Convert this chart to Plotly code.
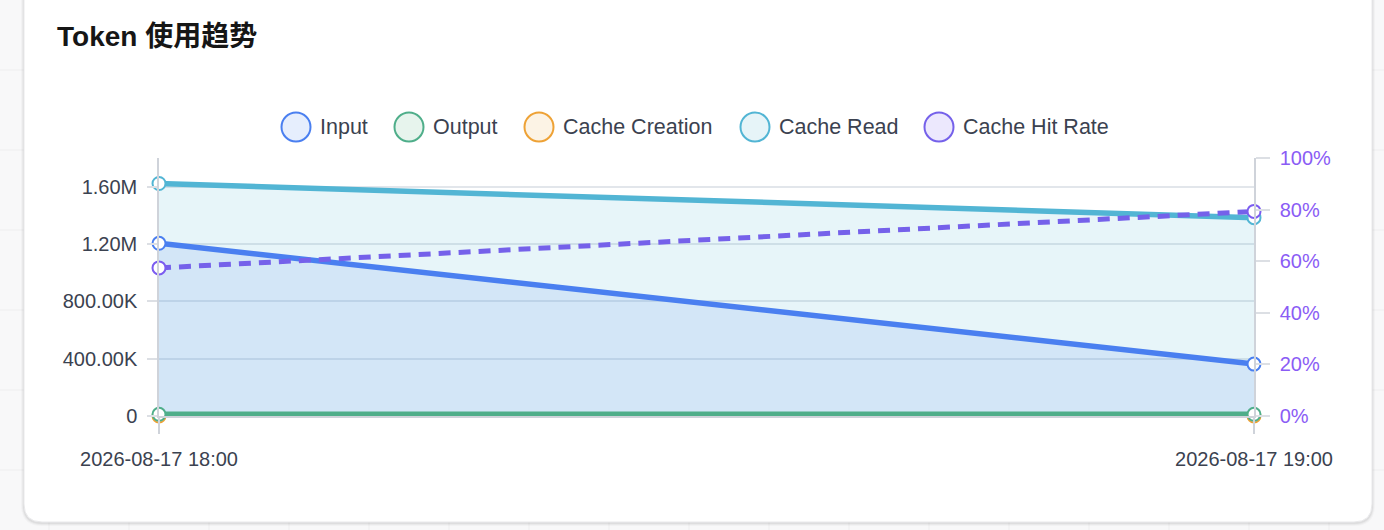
import plotly.graph_objects as go

# data
times = ["2026-08-17 18:00", "2026-08-17 19:00"]
input_tokens = [1205000, 362000]
output_tokens = [12000, 12000]
cache_creation = [0, 0]
cache_read = [1622000, 1384000]
hit_rate = [57.4, 79.3]

series_names = ["Input", "Output", "Cache Creation", "Cache Read", "Cache Hit Rate"]
line_colors = ["#4a7ff0", "#4fae8a", "#eea236", "#52b5d4", "#7561ea"]
legend_fills = ["#e6eefd", "#e7f4ed", "#fcf3e5", "#e6f4f8", "#ece8fd"]

y_tickvals = [0, 400000, 800000, 1200000, 1600000]
y_ticktext = ["0", "400.00K", "800.00K", "1.20M", "1.60M"]
y2_tickvals = [0, 20, 40, 60, 80, 100]
y2_ticktext = ["0%", "20%", "40%", "60%", "80%", "100%"]

title = "Token 使用趋势"

# page / plot area in pixels
W, H = 1384, 530
L, R, T, B = 159, 1254, 158, 416
FONT = "Liberation Sans, Noto Sans CJK SC, sans-serif"
AXIS_GRAY = "#cfd3da"
TEXT = "#3b4250"


def px(x):
    return (x - L) / (R - L)


def py(y):
    return (B - y) / (B - T)


def round_rect(x0, y0, x1, y1, r):
    pts = [
        f"M {px(x0 + r)} {py(y0)}",
        f"L {px(x1 - r)} {py(y0)}",
        f"Q {px(x1)} {py(y0)} {px(x1)} {py(y0 + r)}",
        f"L {px(x1)} {py(y1 - r)}",
        f"Q {px(x1)} {py(y1)} {px(x1 - r)} {py(y1)}",
        f"L {px(x0 + r)} {py(y1)}",
        f"Q {px(x0)} {py(y1)} {px(x0)} {py(y1 - r)}",
        f"L {px(x0)} {py(y0 + r)}",
        f"Q {px(x0)} {py(y0)} {px(x0 + r)} {py(y0)}",
        "Z",
    ]
    return " ".join(pts)


def marker(color):
    return dict(symbol="circle", size=13, color="white", line=dict(color=color, width=2))


fig = go.Figure()

fig.add_trace(go.Scatter(
    x=times, y=cache_read, name=series_names[3], mode="lines+markers",
    line=dict(color=line_colors[3], width=5.5), marker=marker(line_colors[3]),
    fill="tozeroy", fillcolor="rgba(82,181,212,0.14)", cliponaxis=False,
))
fig.add_trace(go.Scatter(
    x=times, y=input_tokens, name=series_names[0], mode="lines+markers",
    line=dict(color=line_colors[0], width=5.5), marker=marker(line_colors[0]),
    fill="tozeroy", fillcolor="rgba(74,128,240,0.13)", cliponaxis=False,
))
fig.add_trace(go.Scatter(
    x=times, y=cache_creation, name=series_names[2], mode="lines+markers",
    line=dict(color=line_colors[2], width=5), marker=marker(line_colors[2]),
    cliponaxis=False,
))
fig.add_trace(go.Scatter(
    x=times, y=output_tokens, name=series_names[1], mode="lines+markers",
    line=dict(color=line_colors[1], width=5.5), marker=marker(line_colors[1]),
    cliponaxis=False,
))
fig.add_trace(go.Scatter(
    x=times, y=hit_rate, name=series_names[4], mode="lines+markers", yaxis="y2",
    line=dict(color=line_colors[4], width=5, dash="12px,8px"), marker=marker("#7b5cf0"),
    cliponaxis=False,
))

shapes = []
# faint page grid behind the card
for gx in range(49, W, 80):
    shapes.append(dict(type="line", xref="paper", yref="paper", layer="below",
                       x0=px(gx), x1=px(gx), y0=py(0), y1=py(H),
                       line=dict(color="#eeeeef", width=1)))
for gy in range(70, H, 80):
    shapes.append(dict(type="line", xref="paper", yref="paper", layer="below",
                       x0=px(0), x1=px(W), y0=py(gy), y1=py(gy),
                       line=dict(color="#eeeeef", width=1)))
# card shadow + card
for i, a in enumerate([0.025, 0.035, 0.05]):
    d = 3 - i
    shapes.append(dict(type="path", xref="paper", yref="paper", layer="below",
                       path=round_rect(24 - d, -40, 1372 + d, 522 + d + 1, 18 + d),
                       fillcolor=f"rgba(0,0,0,{a})", line=dict(width=0)))
shapes.append(dict(type="path", xref="paper", yref="paper", layer="below",
                   path=round_rect(24, -40, 1372, 522, 18),
                   fillcolor="white", line=dict(color="#e9e9eb", width=1)))

# legend (drawn by hand to get the round icons)
legend_x = [296, 409, 539, 755, 939]
legend_y = 127
annotations = []
for name, cx, col, fc in zip(series_names, legend_x, line_colors, legend_fills):
    shapes.append(dict(type="circle", xref="paper", yref="paper",
                       xsizemode="pixel", ysizemode="pixel",
                       xanchor=px(cx), yanchor=py(legend_y),
                       x0=-14.5, x1=14.5, y0=-14.5, y1=14.5,
                       fillcolor=fc, line=dict(color=col, width=2)))
    annotations.append(dict(xref="paper", yref="paper", x=px(cx + 22), y=py(legend_y),
                            xanchor="left", yanchor="middle", showarrow=False,
                            text=name, font=dict(family=FONT, size=21.5, color=TEXT)))

fig.update_layout(
    width=W, height=H,
    margin=dict(l=L, r=W - R, t=T, b=H - B, autoexpand=False),
    paper_bgcolor="#f8f8f9",
    plot_bgcolor="rgba(0,0,0,0)",
    showlegend=False,
    font=dict(family=FONT, size=20, color=TEXT),
    title=dict(text=title, xref="container", yref="container",
               x=57 / W, y=1 - 36 / H, xanchor="left", yanchor="middle",
               font=dict(family=FONT, size=28, color="#161616", weight=700)),
    xaxis=dict(type="category", range=[0, 1], showgrid=False, showline=True,
               linecolor=AXIS_GRAY, linewidth=1.5, ticks="outside", ticklen=16,
               tickcolor=AXIS_GRAY, tickwidth=1.5, ticklabelstandoff=8,
               tickfont=dict(size=20, color=TEXT), zeroline=False, automargin=False),
    yaxis=dict(range=[0, 1800000], tickvals=y_tickvals, ticktext=y_ticktext,
               showgrid=True, gridcolor="#e2e6eb", gridwidth=1.5, showline=True,
               linecolor=AXIS_GRAY, linewidth=1.5, ticks="outside", ticklen=10,
               tickcolor="#dcdfe4", tickwidth=1.5, ticklabelstandoff=6,
               zeroline=False, tickfont=dict(size=20, color=TEXT), automargin=False),
    yaxis2=dict(range=[0, 100], overlaying="y", side="right", tickvals=y2_tickvals,
                ticktext=y2_ticktext, showgrid=False, showline=True,
                linecolor=AXIS_GRAY, linewidth=1.5, ticks="outside", ticklen=14,
                tickcolor="#dcdfe4", tickwidth=1.5, ticklabelstandoff=6,
                zeroline=False, tickfont=dict(size=20, color="#8a5cf5"), automargin=False),
    shapes=shapes,
    annotations=annotations,
)

# the page's default 8px body margin would shift the whole figure
fig.write_html(
    "out.html",
    config={"displayModeBar": False},
    post_script="document.body.style.margin = '0';",
)
